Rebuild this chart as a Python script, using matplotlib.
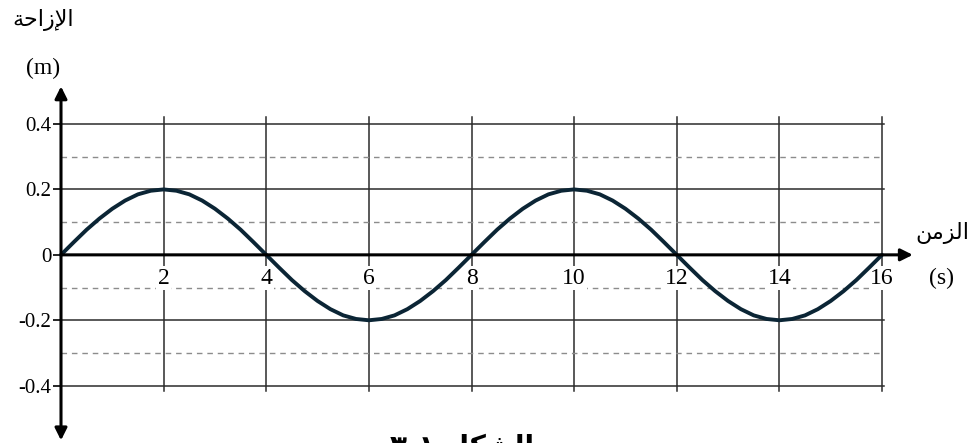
import matplotlib.pyplot as plt
import numpy as np

# displacement (m) read every 0.25 s from t = 0 to t = 16 s
displacement = [
    0, 0.039, 0.077, 0.111, 0.141, 0.166, 0.185, 0.196, 0.2,
    0.196, 0.185, 0.166, 0.141, 0.111, 0.077, 0.039, 0,
    -0.039, -0.077, -0.111, -0.141, -0.166, -0.185, -0.196, -0.2,
    -0.196, -0.185, -0.166, -0.141, -0.111, -0.077, -0.039, 0,
    0.039, 0.077, 0.111, 0.141, 0.166, 0.185, 0.196, 0.2,
    0.196, 0.185, 0.166, 0.141, 0.111, 0.077, 0.039, 0,
    -0.039, -0.077, -0.111, -0.141, -0.166, -0.185, -0.196, -0.2,
    -0.196, -0.185, -0.166, -0.141, -0.111, -0.077, -0.039, 0,
]
time = np.linspace(0, 16, len(displacement))

x_ticks = [2, 4, 6, 8, 10, 12, 14, 16]
y_ticks = [-0.4, -0.2, 0, 0.2, 0.4]
y_labels = ['-0.4', '-0.2', '0', '0.2', '0.4']
solid_levels = [-0.4, -0.2, 0.2, 0.4]
dashed_levels = [-0.3, -0.1, 0.1, 0.3]

# Arabic text, written with presentation forms in visual order
label_y = '\uFE94\uFEA3\uFE8D\uFEAF\uFEF9\uFE8D'   # الإزاحة
label_x = '\uFEE6\uFEE3\uFEB0\uFEDF\uFE8D'         # الزمن
caption = '\u0663-\u0661 \uFEDE\uFEDC\uFEB8\uFEDF\uFE8D'  # الشكل

plt.rcParams['font.family'] = ['Liberation Serif', 'DejaVu Sans']

fig = plt.figure(figsize=(9.72, 4.43), dpi=100)
ax = fig.add_axes([61 / 972, 57.3 / 443, 821 / 972, 261.7 / 443])
ax.set_xlim(0, 16)
ax.set_ylim(-0.4, 0.4)
for s in ax.spines.values():
    s.set_visible(False)
ax.set_xticks([])
ax.set_yticks(y_ticks)
ax.set_yticklabels(y_labels, fontsize=15)
ax.tick_params(axis='y', length=6, width=1.2, pad=1, color='black')

# grid
for t in x_ticks:
    ax.plot([t, t], [-0.415, 0.42], color='#2b2b2b', lw=1.1, clip_on=False, zorder=1)
for v in solid_levels:
    ax.plot([0, 16.03], [v, v], color='#2b2b2b', lw=1.1, clip_on=False, zorder=1)
for v in dashed_levels:
    ax.plot([0, 16], [v, v], color='#8c8c8c', lw=1.0, dashes=(4, 3.5), zorder=1)

# axes with arrows
ax.annotate('', xy=(0, 0.515), xytext=(0, -0.567), annotation_clip=False,
            arrowprops=dict(arrowstyle='<|-|>', lw=2.2, color='black',
                            mutation_scale=18, shrinkA=0, shrinkB=0), zorder=5)
ax.annotate('', xy=(16.6, 0), xytext=(0, 0), annotation_clip=False,
            arrowprops=dict(arrowstyle='-|>', lw=2.2, color='black',
                            mutation_scale=18, shrinkA=0, shrinkB=0), zorder=5)

# x tick labels sitting on the time axis
for t in x_ticks:
    ax.text(t, -0.072, str(t), ha='center', va='center', fontsize=17, zorder=3,
            bbox=dict(facecolor='white', edgecolor='none', pad=1.0))

# the wave
ax.plot(time, displacement, color='#0b2535', lw=2.8, zorder=4, clip_on=False,
        solid_capstyle='round')

# axis names
fig.text(43 / 972, 1 - 20 / 443, label_y, ha='center', va='center', fontsize=16,
         family=['DejaVu Sans'])
fig.text(43 / 972, 1 - 68 / 443, '(m)', ha='center', va='center', fontsize=17)
fig.text(942 / 972, 1 - 233 / 443, label_x, ha='center', va='center', fontsize=16,
         family=['DejaVu Sans'])
fig.text(941 / 972, 1 - 278 / 443, '(s)', ha='center', va='center', fontsize=17)
fig.text(462 / 972, -4 / 443, caption, ha='center', va='center', fontsize=20,
         weight='bold', family=['DejaVu Sans'])

plt.savefig('out.png', dpi=100)
